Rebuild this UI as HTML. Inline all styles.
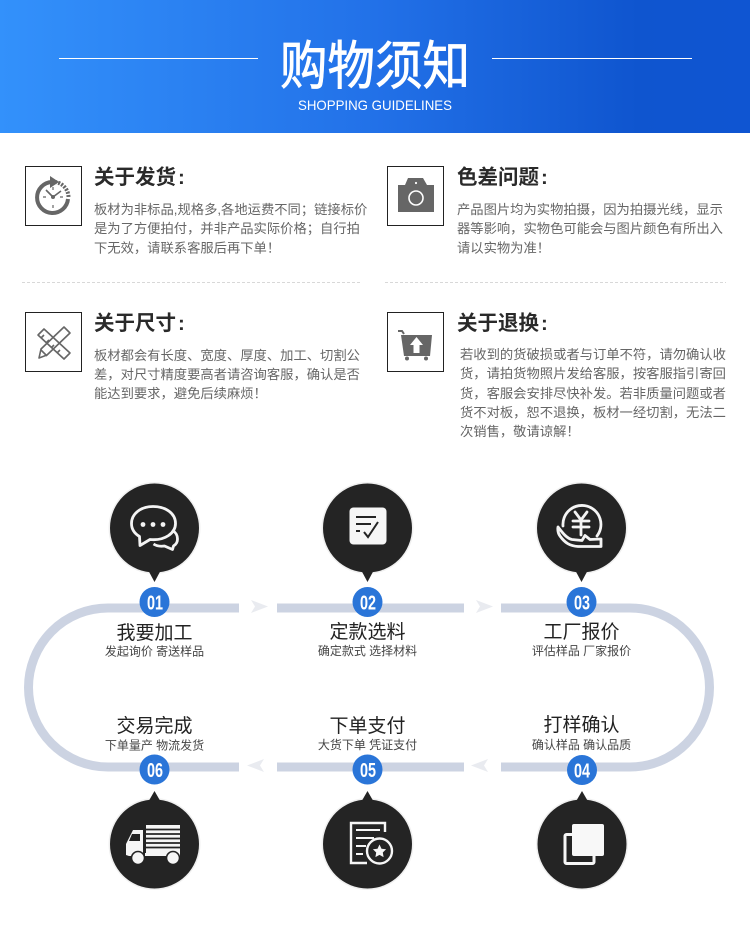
<!DOCTYPE html>
<html lang="zh">
<head>
<meta charset="utf-8">
<style>
html,body{margin:0;padding:0;background:#fff}
svg{display:block}
text{font-family:"Liberation Sans","Noto Sans CJK SC",sans-serif}
.h{font-size:20.5px;font-weight:700;fill:#2a2a2a}
.b{font-size:13.3px;fill:#666}
.l{font-size:19px;fill:#222;text-anchor:middle}
.s{font-size:12px;fill:#444;text-anchor:middle}
.n{font-family:"Liberation Sans Narrow","Liberation Sans",sans-serif;font-size:20px;font-weight:700;fill:#fff;text-anchor:middle}
</style>
</head>
<body>
<svg xmlns="http://www.w3.org/2000/svg" width="750" height="931" viewBox="0 0 750 931">
<defs>
<linearGradient id="g" x1="0" x2="1" y1="0" y2="0"><stop offset="0" stop-color="#3391fb"/><stop offset=".5" stop-color="#2271e8"/><stop offset=".85" stop-color="#0f55cf"/><stop offset="1" stop-color="#0f55d2"/></linearGradient>
</defs>
<rect width="750" height="133" fill="url(#g)"/>
<rect x="59" y="58" width="199" height="1" fill="#fff"/>
<rect x="492" y="58" width="200" height="1" fill="#fff"/>
<text x="375" y="0" text-anchor="middle" font-size="47.5" fill="#fff" stroke="#fff" stroke-width=".7" transform="translate(0,84) scale(1,1.1)">购物须知</text>
<text x="375" y="110" text-anchor="middle" font-size="14" fill="#fff" textLength="154" lengthAdjust="spacingAndGlyphs">SHOPPING GUIDELINES</text>

<!-- boxes -->
<g fill="#fff" stroke="#222" stroke-width="1">
<rect x="25.5" y="166.500" width="56" height="59"/><rect x="25.5" y="312.500" width="56" height="59"/>
<rect x="387.5" y="166.500" width="56" height="59"/><rect x="387.5" y="312.500" width="56" height="59"/>
</g>
<!-- clock -->
<g fill="none" stroke="#666">
<path d="M68 199A15.500 15.500 0 1 1 52 182" stroke-width="4"/>
<path d="M55 182A15.500 15.500 0 0 1 68.500 197" stroke-width="4" stroke-dasharray="2 1.300"/>
<path d="M53 187v3M53 205v3M43 197h3M60 197h3" stroke-width="1.200"/>
<path d="M53 197L46 190M53 197L61 191" stroke-width="1.600"/>
</g>
<path d="M50 176l9 6-9 6z" fill="#666"/><circle cx="53" cy="197" r="2" fill="#666"/>
<!-- ruler pencil -->
<g fill="none" stroke="#666" stroke-width="1.600" stroke-linejoin="round">
<path d="M38 335l6-6 26 24-6 6z"/>
<path d="M41 338l3-3M46 343l3-3M51 348l3-3M57 353l3-3"/>
<path d="M64 327l6 6-23 22-8 3 2-9z"/>
<path d="M41 350l6 6"/>
</g>
<!-- camera -->
<path d="M398 185h7l3-7h15l4 7h7v27h-36z" fill="#666"/>
<circle cx="416" cy="198" r="7" fill="#666" stroke="#fff" stroke-width="1.600"/><circle cx="416" cy="183" r="1.100" fill="#fff"/>
<!-- cart -->
<path d="M398 331h4l2 3" fill="none" stroke="#666" stroke-width="2"/>
<path d="M401 335h31l-2 21h-26z" fill="#666"/>
<path d="M416.500 337l6.500 8h-3.500v8h-6v-8h-3.500z" fill="#fff"/>
<circle cx="407" cy="358.500" r="2" fill="#666"/><circle cx="426" cy="358.500" r="2" fill="#666"/>

<!-- headings -->
<text class="h" x="94" y="184">关于发货<tspan dx="2">:</tspan></text>
<text class="h" x="94" y="330">关于尺寸<tspan dx="2">:</tspan></text>
<text class="h" x="457" y="184">色差问题<tspan dx="2">:</tspan></text>
<text class="h" x="457" y="330">关于退换<tspan dx="2">:</tspan></text>

<text class="b" x="94" y="214">板材为非标品,规格多,各地运费不同&#xFF1B;链接标价</text>
<text class="b" x="94" y="233">是为了方便拍付&#xFF0C;并非产品实际价格&#xFF1B;自行拍</text>
<text class="b" x="94" y="252.500">下无效&#xFF0C;请联系客服后再下单&#xFF01;</text>
<text class="b" x="94" y="360">板材都会有长度、宽度、厚度、加工、切割公</text>
<text class="b" x="94" y="379">差&#xFF0C;对尺寸精度要高者请咨询客服&#xFF0C;确认是否</text>
<text class="b" x="94" y="398">能达到要求&#xFF0C;避免后续麻烦&#xFF01;</text>
<text class="b" x="457" y="214">产品图片均为实物拍摄&#xFF0C;因为拍摄光线&#xFF0C;显示</text>
<text class="b" x="457" y="233">器等影响&#xFF0C;实物色可能会与图片颜色有所出入</text>
<text class="b" x="457" y="252.500">请以实物为准&#xFF01;</text>
<text class="b" x="460" y="359">若收到的货破损或者与订单不符&#xFF0C;请勿确认收</text>
<text class="b" x="460" y="378">货&#xFF0C;请拍货物照片发给客服&#xFF0C;按客服指引寄回</text>
<text class="b" x="460" y="398">货&#xFF0C;客服会安排尽快补发。若非质量问题或者</text>
<text class="b" x="460" y="417">货不对板&#xFF0C;恕不退换&#xFF0C;板材一经切割&#xFF0C;无法二</text>
<text class="b" x="460" y="436">次销售&#xFF0C;敬请谅解&#xFF01;</text>

<path d="M22 282.500H360M385 282.500H726" stroke="#d8d8d8" stroke-width="1" stroke-dasharray="3 2" fill="none"/>

<!-- track -->
<g fill="none" stroke="#ccd3e2" stroke-width="9">
<path d="M239 608H108A79.500 79.500 0 0 0 108 767H239"/>
<path d="M277 608H464M277 767H464"/>
<path d="M501 608H630A79.500 79.500 0 0 1 630 767H501"/>
</g>
<g fill="#e9ebf0">
<path d="M251 600l17 6.500-17 6.500 4-6.500z"/><path d="M476 600l17 6.500-17 6.500 4-6.500z"/>
<path d="M264 759l-17 6.500 17 6.500-4-6.500z"/><path d="M488 759l-17 6.500 17 6.500-4-6.500z"/>
</g>

<!-- pins -->
<g fill="#242424">
<circle cx="154.500" cy="528" r="46" fill="#f0f0f0"/><circle cx="367.500" cy="528" r="46" fill="#f0f0f0"/><circle cx="581.500" cy="528" r="46" fill="#f0f0f0"/>
<circle cx="154.500" cy="844" r="46" fill="#f0f0f0"/><circle cx="367.500" cy="844" r="46" fill="#f0f0f0"/><circle cx="582" cy="844" r="46" fill="#f0f0f0"/>
<circle cx="154.500" cy="528" r="44.500"/><path d="M147 568l7.500 14 7.500-14z"/>
<circle cx="367.500" cy="528" r="44.500"/><path d="M360 568l7.500 14 7.500-14z"/>
<circle cx="581.500" cy="528" r="44.500"/><path d="M574 568l7.500 14 7.500-14z"/>
<circle cx="154.500" cy="844" r="44.500"/><path d="M147 804l7.500-13 7.500 13z"/>
<circle cx="367.500" cy="844" r="44.500"/><path d="M360 804l7.500-13 7.500 13z"/>
<circle cx="582" cy="844" r="44.500"/><path d="M574.500 804l7.500-13 7.500 13z"/>
</g>

<!-- icon 01 chat -->
<g fill="none" stroke="#f4f4f4" stroke-width="2.800" stroke-linejoin="round">
<path d="M153 506.500c-12.500 0-21.500 7.500-21.500 17 0 5.500 3 10 8 13l.5 9 10-6c15 1.500 25.500-6.500 25.500-16 0-10-9.500-17-22.500-17z"/>
<path d="M172 530c4 2.500 5.500 5 5.500 9 0 3-1.500 5.500-4 7l-1 3.500-8-3.500c-3.500 .5-8 0-11-2"/>
</g>
<g fill="#f4f4f4"><circle cx="143" cy="524.500" r="2.400"/><circle cx="153" cy="524.500" r="2.400"/><circle cx="163" cy="524.500" r="2.400"/></g>
<!-- icon 02 checklist -->
<rect x="349.500" y="507.500" width="37" height="37" rx="4" fill="#f6f6f6"/>
<path d="M356 517h20M356 524h15M356 531h4M364 532l4 5 10-15" fill="none" stroke="#242424" stroke-width="2"/>
<!-- icon 03 yuan hand -->
<g fill="none" stroke="#f4f4f4" stroke-width="2.800" stroke-linejoin="round" stroke-linecap="round">
<path d="M563 526a19 19 0 1 1 34 10"/>
<path d="M575 512l6 8 6-8M573 521h16M573 527h16M581 520v15"/>
<path d="M558 527c0 0-1 5 2 9 5 7 10 10 18 10.500h23V539l-11 .5-5-4-3 5-10-1c-5-1-9-6-14-12.500z"/>
</g>
<!-- icon 06 truck -->
<g fill="#f6f6f6">
<path d="M146 825h34v28h-34z"/>
<path d="M143 830v26h-14l-3-1v-11l7-14z"/>
<rect x="145" y="853" width="35" height="3"/>
</g>
<g stroke="#242424" stroke-width="1.800"><path d="M146 829.500h34M146 834h34M146 838.500h34M146 843h34M146 847.500h34"/></g>
<path d="M132 834h8v7h-11z" fill="#242424"/>
<g fill="#f6f6f6" stroke="#242424" stroke-width="1.600"><circle cx="138" cy="858" r="6.500"/><circle cx="173" cy="858" r="6.500"/></g>
<!-- icon 05 document -->
<g fill="none" stroke="#f6f6f6" stroke-width="2.400">
<path d="M385 832v-9h-34v40h16"/>
<path d="M356 830h24M356 838h18M356 846h10M356 854h7" stroke-width="2"/>
<circle cx="379.500" cy="851" r="12.500" fill="#242424"/>
</g>
<path d="M379.500 844.500l2 4.200 4.600.6-3.300 3.200.8 4.600-4.100-2.200-4.100 2.200.8-4.600-3.300-3.200 4.600-.6z" fill="#f6f6f6"/>
<!-- icon 04 squares -->
<rect x="565" y="834.500" width="29" height="29" rx="1.500" fill="none" stroke="#f6f6f6" stroke-width="3"/>
<rect x="572" y="824" width="32" height="32" rx="2" fill="#f8f8f8"/>

<!-- badges -->
<g fill="#2a75d8">
<circle cx="154.500" cy="602" r="15"/><circle cx="367.500" cy="602" r="15"/><circle cx="581.500" cy="602" r="15"/>
<circle cx="154.500" cy="769.500" r="15"/><circle cx="367.500" cy="769.500" r="15"/><circle cx="582" cy="770" r="15"/>
</g>
<text class="n" x="155" y="609.500" textLength="16" lengthAdjust="spacingAndGlyphs">01</text>
<text class="n" x="368" y="609.500" textLength="16" lengthAdjust="spacingAndGlyphs">02</text>
<text class="n" x="582" y="609.500" textLength="16" lengthAdjust="spacingAndGlyphs">03</text>
<text class="n" x="155" y="777" textLength="16" lengthAdjust="spacingAndGlyphs">06</text>
<text class="n" x="368" y="777" textLength="16" lengthAdjust="spacingAndGlyphs">05</text>
<text class="n" x="582" y="777.500" textLength="16" lengthAdjust="spacingAndGlyphs">04</text>

<!-- labels -->
<text class="l" x="154.500" y="639">我要加工</text><text class="s" x="154.500" y="655.500">发起询价 寄送样品</text>
<text class="l" x="367.500" y="638">定款选料</text><text class="s" x="367.500" y="655">确定款式 选择材料</text>
<text class="l" x="581.500" y="638">工厂报价</text><text class="s" x="581.500" y="655">评估样品 厂家报价</text>
<text class="l" x="154.500" y="732">交易完成</text><text class="s" x="154.500" y="749.500">下单量产 物流发货</text>
<text class="l" x="367.500" y="732">下单支付</text><text class="s" x="367.500" y="749">大货下单 凭证支付</text>
<text class="l" x="581.500" y="731">打样确认</text><text class="s" x="581.500" y="749">确认样品 确认品质</text>
</svg>
</body>
</html>
